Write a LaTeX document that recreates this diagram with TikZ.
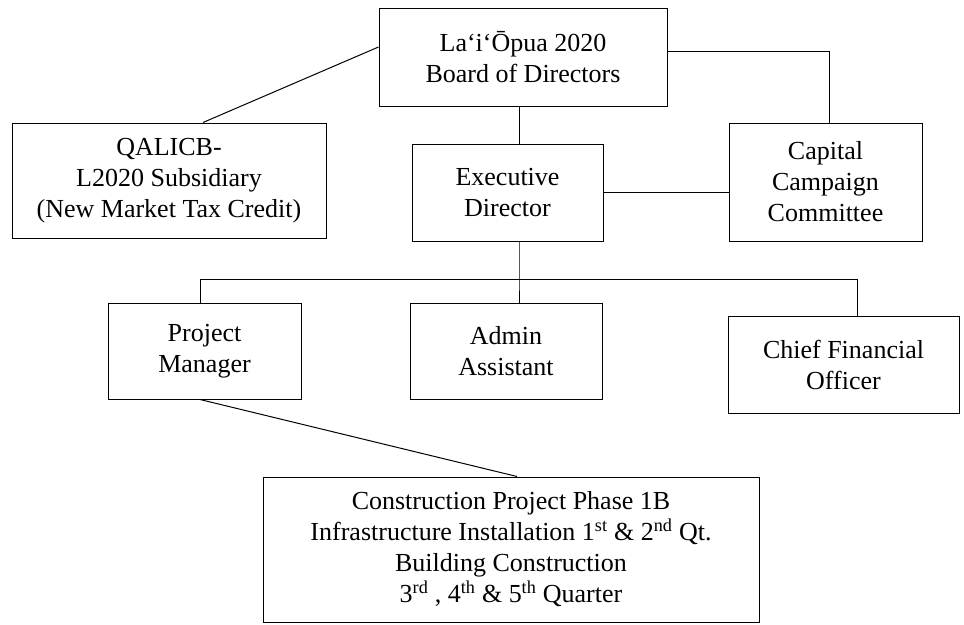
\documentclass[tikz,border=0pt]{standalone}
\usepackage{fontspec}
\setmainfont{Liberation Serif}
\tikzset{box/.style={draw, line width=1pt, align=center, inner sep=0pt, font=\fontsize{26}{31}\selectfont}}
\begin{document}
\begin{tikzpicture}[x=1pt, y=-1pt, line width=1pt]
                \useasboundingbox (0,0) rectangle (964,624);
                \node[box, minimum width=288pt, minimum height=98pt] (board) at (523,57) {La‘i‘Ōpua 2020\\Board of Directors};
                \node[box, minimum width=314pt, minimum height=115pt] (qalicb) at (169,180.5) {QALICB-\\L2020 Subsidiary\\(New Market Tax Credit)};
                \node[box, minimum width=191pt, minimum height=97pt] (exec) at (507.5,192.5) {Executive\\Director};
                \node[box, minimum width=193pt, minimum height=118pt] (ccc) at (825.5,182) {Capital\\Campaign\\Committee};
                \node[box, minimum width=193pt, minimum height=96pt] (pm) at (204.5,351) {Project\\Manager};
                \node[box, minimum width=192pt, minimum height=96pt] (admin) at (506,351) {Admin\\Assistant};
                \node[box, minimum width=231pt, minimum height=97pt] (cfo) at (843.5,364.5) {Chief Financial\\Officer};
                \node[box, minimum width=496pt, minimum height=145pt] (cons) at (511,549.5) {Construction Project Phase 1B\\Infrastructure Installation 1\textsuperscript{st} \& 2\textsuperscript{nd} Qt.\\Building Construction\\3\textsuperscript{rd} , 4\textsuperscript{th} \& 5\textsuperscript{th} Quarter};
                \coordinate (bus) at (519,279);
                \coordinate (busL) at (200,279);
                \coordinate (busR) at (857,279);
                \draw ([yshift=10pt]board.west) -- ([xshift=34pt]qalicb.north);
                \draw ([yshift=6pt]board.east) -| ([xshift=4pt]ccc.north);
                \draw (board.south -| bus) -- (exec.north -| bus);
                \draw (exec.east) -- (exec.east -| ccc.west);
                \draw (exec.south -| bus) -- (bus) -- (admin.north -| bus);
                \draw (pm.north -| busL) -- (busL) -- (busR) -- (cfo.north -| busR);
                \draw ([xshift=-4.5pt]pm.south) -- ([xshift=6pt]cons.north);
            \end{tikzpicture}
\end{document}
